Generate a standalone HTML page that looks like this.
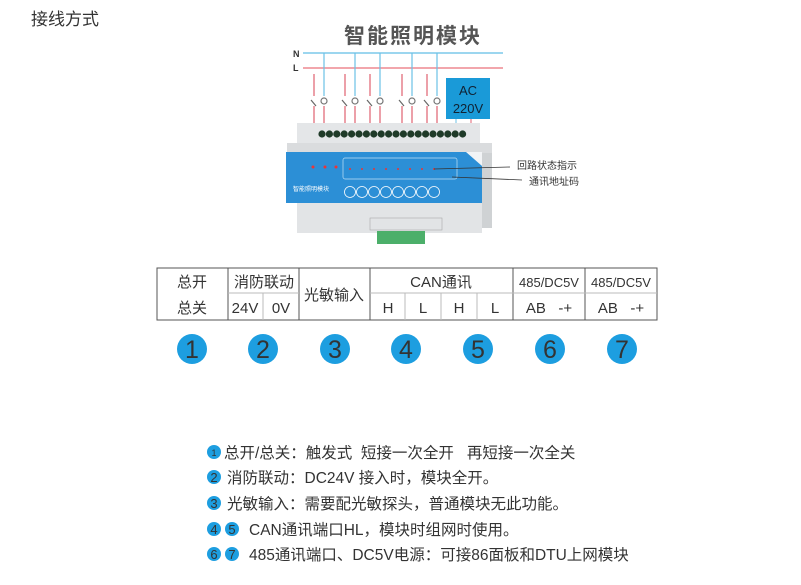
<!DOCTYPE html>
<html><head><meta charset="utf-8"><style>
body{margin:0;background:#fff;width:801px;height:585px;overflow:hidden;position:relative;font-family:"Liberation Sans","Noto Sans CJK SC",sans-serif;}
.t{position:absolute;white-space:nowrap;}
svg text{white-space:pre;}
</style></head><body>
<div class="t" style="left:31px;top:5px;font-size:17px;color:#333;">接线方式</div>
<svg width="801" height="585" style="position:absolute;left:0;top:0" font-family="Liberation Sans, Noto Sans CJK SC, sans-serif">
<text x="413" y="43" font-size="21" font-weight="bold" fill="#555" text-anchor="middle" letter-spacing="2">智能照明模块</text>
<text x="293" y="57" font-size="9" font-weight="bold" fill="#333">N</text>
<text x="293" y="71" font-size="9" font-weight="bold" fill="#333">L</text>
<line x1="303" y1="53" x2="503" y2="53" stroke="#7cc8ea" stroke-width="1.5"/>
<line x1="303" y1="68" x2="503" y2="68" stroke="#ee8890" stroke-width="1.5"/>
<g stroke-width="1.2">
<g id="p"><line x1="314" y1="74" x2="314" y2="96" stroke="#e06070"/><line x1="311" y1="100" x2="316" y2="106" stroke="#666"/><line x1="314" y1="106" x2="314" y2="131" stroke="#e06070"/>
<line x1="324" y1="53" x2="324" y2="96" stroke="#6cc0e6"/><circle cx="324" cy="101" r="3" fill="none" stroke="#777"/><line x1="324" y1="106" x2="324" y2="131" stroke="#e06070"/></g>
<use href="#p" x="31"/><use href="#p" x="56"/><use href="#p" x="88"/><use href="#p" x="113"/>
</g>
<rect x="446" y="78" width="44" height="41" fill="#1a9ad8"/>
<text x="468" y="95" font-size="13" fill="#123" text-anchor="middle">AC</text>
<text x="468" y="113" font-size="13" fill="#123" text-anchor="middle">220V</text>
<line x1="456" y1="119" x2="456" y2="132" stroke="#6cc0e6"/><line x1="471" y1="119" x2="471" y2="132" stroke="#e06070"/>
<rect x="297" y="123" width="183" height="20" fill="#e4e6e8"/>
<rect x="287" y="143" width="205" height="10" fill="#dadcde"/>
<g fill="#1f3a28">
<circle cx="322" cy="134" r="3.6"/><circle cx="329.4" cy="134" r="3.6"/><circle cx="336.8" cy="134" r="3.6"/><circle cx="344.2" cy="134" r="3.6"/><circle cx="351.6" cy="134" r="3.6"/><circle cx="359" cy="134" r="3.6"/><circle cx="366.4" cy="134" r="3.6"/><circle cx="373.8" cy="134" r="3.6"/><circle cx="381.2" cy="134" r="3.6"/><circle cx="388.6" cy="134" r="3.6"/><circle cx="396" cy="134" r="3.6"/><circle cx="403.4" cy="134" r="3.6"/><circle cx="410.8" cy="134" r="3.6"/><circle cx="418.2" cy="134" r="3.6"/><circle cx="425.6" cy="134" r="3.6"/><circle cx="433" cy="134" r="3.6"/><circle cx="440.4" cy="134" r="3.6"/><circle cx="447.8" cy="134" r="3.6"/><circle cx="455.2" cy="134" r="3.6"/><circle cx="462.6" cy="134" r="3.6"/>
</g>
<rect x="297" y="203" width="185" height="30" fill="#e2e4e6"/>
<rect x="482" y="153" width="10" height="75" fill="#cfd2d4"/>
<rect x="286" y="152" width="196" height="51" fill="#2c8fd6"/>
<polygon points="466,152 482,152 482,166" fill="#f2f4f6"/>
<rect x="343" y="158" width="114" height="21" fill="none" stroke="#bfe0f5" stroke-width="0.7" rx="2"/>
<text x="293" y="191" font-size="6" fill="#fff">智能照明模块</text>
<g fill="none" stroke="#fff" stroke-width="0.8">
<circle cx="350" cy="192" r="5.5"/><circle cx="362" cy="192" r="5.5"/><circle cx="374" cy="192" r="5.5"/><circle cx="386" cy="192" r="5.5"/><circle cx="398" cy="192" r="5.5"/><circle cx="410" cy="192" r="5.5"/><circle cx="422" cy="192" r="5.5"/><circle cx="434" cy="192" r="5.5"/></g>
<g fill="#e33"><circle cx="313" cy="167" r="1.5"/><circle cx="325" cy="167" r="1.5"/><circle cx="336" cy="167" r="1.5"/><circle cx="350" cy="169" r="1"/><circle cx="362" cy="169" r="1"/><circle cx="374" cy="169" r="1"/><circle cx="386" cy="169" r="1"/><circle cx="398" cy="169" r="1"/><circle cx="410" cy="169" r="1"/><circle cx="422" cy="169" r="1"/><circle cx="434" cy="169" r="1"/></g>
<line x1="434" y1="169" x2="510" y2="167" stroke="#333" stroke-width="0.8"/>
<line x1="452" y1="177" x2="522" y2="180" stroke="#333" stroke-width="0.8"/>
<rect x="370" y="218" width="72" height="12" fill="none" stroke="#aaa" stroke-width="0.6"/>
<rect x="377" y="231" width="48" height="13" fill="#4caf6a"/>
<text x="517" y="169" font-size="10" fill="#333">回路状态指示</text>
<text x="529" y="185" font-size="10" fill="#333">通讯地址码</text>
<g stroke="#555" stroke-width="1" fill="none">
<rect x="157" y="268" width="500" height="52"/>
<line x1="228" y1="268" x2="228" y2="320"/><line x1="299" y1="268" x2="299" y2="320"/><line x1="370" y1="268" x2="370" y2="320"/><line x1="513" y1="268" x2="513" y2="320"/><line x1="585" y1="268" x2="585" y2="320"/>
<line x1="228" y1="293" x2="299" y2="293" stroke="#bbb"/><line x1="370" y1="293" x2="657" y2="293" stroke="#bbb"/>
<line x1="263" y1="293" x2="263" y2="320" stroke="#bbb"/><line x1="405" y1="293" x2="405" y2="320" stroke="#bbb"/><line x1="441" y1="293" x2="441" y2="320" stroke="#bbb"/><line x1="477" y1="293" x2="477" y2="320" stroke="#bbb"/>
</g>
<g font-size="15" fill="#333" text-anchor="middle">
<text x="192" y="287">总开</text><text x="192" y="313">总关</text>
<text x="264" y="287">消防联动</text>
<text x="245" y="313">24V</text><text x="281" y="313">0V</text>
<text x="334" y="300">光敏输入</text>
<text x="441" y="287">CAN通讯</text>
<text x="388" y="313">H</text><text x="423" y="313">L</text><text x="459" y="313">H</text><text x="495" y="313">L</text>
<text x="549" y="287" font-size="13">485/DC5V</text><text x="621" y="287" font-size="13">485/DC5V</text>
<text x="549" y="313">AB   -+</text><text x="621" y="313">AB   -+</text>
</g>
<g font-size="25" fill="#333" text-anchor="middle">
<circle cx="192" cy="349" r="15" fill="#1d9ee0"/><text x="192" y="358">1</text>
<circle cx="263" cy="349" r="15" fill="#1d9ee0"/><text x="263" y="358">2</text>
<circle cx="335" cy="349" r="15" fill="#1d9ee0"/><text x="335" y="358">3</text>
<circle cx="406" cy="349" r="15" fill="#1d9ee0"/><text x="406" y="358">4</text>
<circle cx="478" cy="349" r="15" fill="#1d9ee0"/><text x="478" y="358">5</text>
<circle cx="550" cy="349" r="15" fill="#1d9ee0"/><text x="550" y="358">6</text>
<circle cx="622" cy="349" r="15" fill="#1d9ee0"/><text x="622" y="358">7</text>
</g>
<g font-size="13" fill="#333" text-anchor="middle">
<circle cx="214" cy="452" r="7" fill="#1d9ee0"/><text x="214" y="456" font-size="9">1</text>
<circle cx="214" cy="477" r="7" fill="#1d9ee0"/><text x="214" y="482">2</text>
<circle cx="214" cy="503" r="7" fill="#1d9ee0"/><text x="214" y="508">3</text>
<circle cx="214" cy="529" r="7" fill="#1d9ee0"/><text x="214" y="534">4</text>
<circle cx="232" cy="529" r="7" fill="#1d9ee0"/><text x="232" y="534">5</text>
<circle cx="214" cy="554" r="7" fill="#1d9ee0"/><text x="214" y="559">6</text>
<circle cx="232" cy="554" r="7" fill="#1d9ee0"/><text x="232" y="559">7</text>
</g>
<g font-size="15.5" fill="#333">
<text x="224" y="458">总开/总关：触发式  短接一次全开   再短接一次全关</text>
<text x="227" y="483">消防联动：DC24V 接入时，模块全开。</text>
<text x="227" y="509">光敏输入：需要配光敏探头，普通模块无此功能。</text>
<text x="249" y="535">CAN通讯端口HL，模块时组网时使用。</text>
<text x="249" y="560">485通讯端口、DC5V电源：可接86面板和DTU上网模块</text>
</g>
</svg>
</body></html>
